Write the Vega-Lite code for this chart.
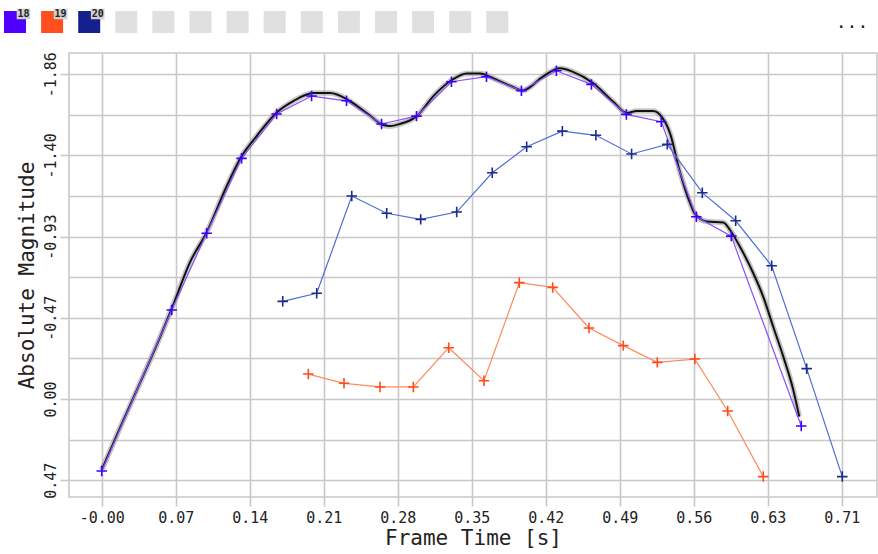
{
  "$schema": "https://vega.github.io/schema/vega-lite/v6.json",
  "width": 808,
  "height": 444,
  "autosize": {"type": "none"},
  "padding": {"left": 69, "top": 53, "right": 1, "bottom": 57},
  "background": "white",
  "config": {"view": {"stroke": "#c8c8c8", "strokeWidth": 1.6}, "font": "DejaVu Sans Mono"},
  "datasets": {
    "fit": [
      {"t": 0.0, "mag": 0.407}, {"t": 0.0174, "mag": 0.166}, {"t": 0.0365, "mag": -0.092}, {"t": 0.0556, "mag": -0.355},
      {"t": 0.067, "mag": -0.522}, {"t": 0.0842, "mag": -0.785}, {"t": 0.1001, "mag": -0.957}, {"t": 0.1191, "mag": -1.221},
      {"t": 0.1334, "mag": -1.393}, {"t": 0.1477, "mag": -1.508}, {"t": 0.1668, "mag": -1.643}, {"t": 0.1826, "mag": -1.708},
      {"t": 0.2017, "mag": -1.754}, {"t": 0.2176, "mag": -1.754}, {"t": 0.235, "mag": -1.714}, {"t": 0.2525, "mag": -1.64},
      {"t": 0.2684, "mag": -1.571}, {"t": 0.2747, "mag": -1.565}, {"t": 0.2842, "mag": -1.577}, {"t": 0.3002, "mag": -1.622},
      {"t": 0.3157, "mag": -1.734}, {"t": 0.3336, "mag": -1.829}, {"t": 0.3478, "mag": -1.867}, {"t": 0.3605, "mag": -1.867},
      {"t": 0.3729, "mag": -1.84}, {"t": 0.3919, "mag": -1.789}, {"t": 0.4015, "mag": -1.769}, {"t": 0.4205, "mag": -1.849},
      {"t": 0.4367, "mag": -1.896}, {"t": 0.4491, "mag": -1.876}, {"t": 0.4682, "mag": -1.812}, {"t": 0.4873, "mag": -1.706},
      {"t": 0.5003, "mag": -1.64}, {"t": 0.5099, "mag": -1.651}, {"t": 0.5254, "mag": -1.651}, {"t": 0.5337, "mag": -1.618},
      {"t": 0.5416, "mag": -1.525}, {"t": 0.5511, "mag": -1.301}, {"t": 0.5607, "mag": -1.124}, {"t": 0.5654, "mag": -1.061},
      {"t": 0.5766, "mag": -1.018}, {"t": 0.5924, "mag": -1.012}, {"t": 0.5988, "mag": -0.969}, {"t": 0.6083, "mag": -0.873},
      {"t": 0.621, "mag": -0.721}, {"t": 0.6305, "mag": -0.586}, {"t": 0.64, "mag": -0.414}, {"t": 0.6496, "mag": -0.243},
      {"t": 0.6591, "mag": -0.052}, {"t": 0.6648, "mag": 0.101}
    ],
    "series": [
      {"id": "18", "t": 0.0, "mag": 0.413}, {"id": "18", "t": 0.0667, "mag": -0.51}, {"id": "18", "t": 0.1, "mag": -0.95},
      {"id": "18", "t": 0.1333, "mag": -1.38}, {"id": "18", "t": 0.1667, "mag": -1.634}, {"id": "18", "t": 0.2, "mag": -1.737},
      {"id": "18", "t": 0.2333, "mag": -1.71}, {"id": "18", "t": 0.2667, "mag": -1.577}, {"id": "18", "t": 0.3, "mag": -1.622},
      {"id": "18", "t": 0.3333, "mag": -1.819}, {"id": "18", "t": 0.3667, "mag": -1.848}, {"id": "18", "t": 0.4, "mag": -1.768},
      {"id": "18", "t": 0.4333, "mag": -1.882}, {"id": "18", "t": 0.4667, "mag": -1.804}, {"id": "18", "t": 0.5, "mag": -1.632},
      {"id": "18", "t": 0.5333, "mag": -1.59}, {"id": "18", "t": 0.5667, "mag": -1.045}, {"id": "18", "t": 0.6, "mag": -0.934},
      {"id": "18", "t": 0.6667, "mag": 0.155},
      {"id": "19", "t": 0.1969, "mag": -0.143}, {"id": "19", "t": 0.2309, "mag": -0.09}, {"id": "19", "t": 0.2652, "mag": -0.069},
      {"id": "19", "t": 0.297, "mag": -0.069}, {"id": "19", "t": 0.3307, "mag": -0.294}, {"id": "19", "t": 0.3643, "mag": -0.105},
      {"id": "19", "t": 0.398, "mag": -0.667}, {"id": "19", "t": 0.4298, "mag": -0.64}, {"id": "19", "t": 0.4644, "mag": -0.407},
      {"id": "19", "t": 0.4971, "mag": -0.306}, {"id": "19", "t": 0.5295, "mag": -0.21}, {"id": "19", "t": 0.5653, "mag": -0.229},
      {"id": "19", "t": 0.5966, "mag": 0.069}, {"id": "19", "t": 0.6305, "mag": 0.445},
      {"id": "20", "t": 0.1725, "mag": -0.56}, {"id": "20", "t": 0.2049, "mag": -0.606}, {"id": "20", "t": 0.2383, "mag": -1.164},
      {"id": "20", "t": 0.2716, "mag": -1.065}, {"id": "20", "t": 0.304, "mag": -1.03}, {"id": "20", "t": 0.3383, "mag": -1.072},
      {"id": "20", "t": 0.3722, "mag": -1.297}, {"id": "20", "t": 0.405, "mag": -1.446}, {"id": "20", "t": 0.439, "mag": -1.536},
      {"id": "20", "t": 0.471, "mag": -1.512}, {"id": "20", "t": 0.505, "mag": -1.405}, {"id": "20", "t": 0.539, "mag": -1.46},
      {"id": "20", "t": 0.5724, "mag": -1.183}, {"id": "20", "t": 0.6042, "mag": -1.022}, {"id": "20", "t": 0.6385, "mag": -0.764},
      {"id": "20", "t": 0.6719, "mag": -0.174}, {"id": "20", "t": 0.7058, "mag": 0.445}
    ],
    "legend": [
      {"slot": 0, "id": "18"}, {"slot": 1, "id": "19"}, {"slot": 2, "id": "20"},
      {"slot": 3, "id": "empty"}, {"slot": 4, "id": "empty"}, {"slot": 5, "id": "empty"}, {"slot": 6, "id": "empty"},
      {"slot": 7, "id": "empty"}, {"slot": 8, "id": "empty"}, {"slot": 9, "id": "empty"}, {"slot": 10, "id": "empty"},
      {"slot": 11, "id": "empty"}, {"slot": 12, "id": "empty"}, {"slot": 13, "id": "empty"}
    ]
  },
  "layer": [
    {
      "encoding": {
        "x": {
          "field": "t", "type": "quantitative", "title": "Frame Time [s]",
          "scale": {"domain": [-0.0312, 0.7389], "nice": false, "zero": false},
          "axis": {
            "values": [0, 0.07053, 0.14106, 0.21159, 0.28212, 0.35265, 0.42318, 0.49371, 0.56424, 0.63477, 0.7053],
            "labelExpr": "datum.value < 0.001 ? '-0.00' : format(datum.value, '.2f')",
            "domain": false, "grid": true, "gridColor": "#c8c8c8", "gridWidth": 1.6,
            "tickColor": "#c8c8c8", "tickWidth": 1.6, "tickSize": 9,
            "labelPadding": 4, "labelFont": "DejaVu Sans Mono", "labelFontSize": 15, "labelColor": "#222",
            "labelFlush": false, "labelOverlap": false,
            "titleFont": "DejaVu Sans Mono", "titleFontSize": 21, "titleFontWeight": "normal", "titleColor": "#222", "titlePadding": 2
          }
        },
        "y": {
          "field": "mag", "type": "quantitative", "title": "Absolute Magnitude",
          "scale": {"domain": [-1.984, 0.562], "reverse": true, "nice": false, "zero": false},
          "axis": {
            "values": [-1.8624, -1.6296, -1.3968, -1.164, -0.9312, -0.6984, -0.4656, -0.2328, 0, 0.2328, 0.4656],
            "labelExpr": "abs(datum.value/0.4656 - round(datum.value/0.4656)) < 0.01 ? replace(format(datum.value, '.2f'), '\u2212', '-') : ''",
            "labelAngle": -90, "labelAlign": "center", "labelBaseline": "bottom",
            "domain": false, "grid": true, "gridColor": "#c8c8c8", "gridWidth": 1.6,
            "tickColor": {"condition": {"test": "abs(datum.value/0.4656 - round(datum.value/0.4656)) < 0.01", "value": "#c8c8c8"}, "value": "rgba(0,0,0,0)"},
            "tickWidth": 1.6, "tickSize": 9,
            "labelPadding": 2, "labelFont": "DejaVu Sans Mono", "labelFontSize": 15, "labelColor": "#222",
            "labelFlush": false, "labelOverlap": false,
            "titleFont": "DejaVu Sans Mono", "titleFontSize": 21, "titleFontWeight": "normal", "titleColor": "#222", "titlePadding": 6
          }
        }
      },
      "layer": [
        {"data": {"name": "fit"}, "mark": {"type": "line", "interpolate": "monotone", "stroke": "#a0a0a0", "strokeWidth": 5.5, "opacity": 0.6}},
        {"data": {"name": "fit"}, "mark": {"type": "line", "interpolate": "monotone", "stroke": "#111111", "strokeWidth": 2}},
        {
          "data": {"name": "series"},
          "mark": {"type": "line", "strokeWidth": 1.2},
          "encoding": {"color": {"field": "id", "type": "nominal", "scale": {"domain": ["18", "19", "20"], "range": ["#8a4cff", "#ff8a5c", "#4d6ed6"]}, "legend": null}}
        },
        {
          "data": {"name": "series"},
          "mark": {"type": "point", "shape": "M-1,0H1M0,-1V1", "filled": false, "size": 110, "strokeWidth": 1.6, "opacity": 1},
          "encoding": {"stroke": {"field": "id", "type": "nominal", "scale": {"domain": ["18", "19", "20"], "range": ["#3d00ff", "#ff4a1c", "#1b2a8c"]}, "legend": null}}
        },
        {
          "data": {"values": [{"label": "mass -2.72"}]},
          "mark": {"type": "text", "align": "right", "baseline": "alphabetic", "font": "DejaVu Sans Mono", "fontSize": 24, "color": "#222"},
          "encoding": {"x": {"datum": 0.737, "type": "quantitative"}, "y": {"datum": -1.858, "type": "quantitative"}, "text": {"field": "label"}}
        }
      ]
    },
    {
      "encoding": {
        "x": {"field": "slot", "type": "quantitative", "scale": {"domain": [1.4555, 23.2345], "nice": false, "zero": false}, "axis": null},
        "y": {"datum": 1, "type": "quantitative", "scale": {"domain": [-14.32, 0], "nice": false, "zero": false}, "axis": null}
      },
      "layer": [
        {
          "data": {"name": "legend"},
          "mark": {"type": "point", "shape": "square", "filled": true, "size": 484, "opacity": 1},
          "encoding": {"fill": {"field": "id", "type": "nominal", "scale": {"domain": ["18", "19", "20", "empty"], "range": ["#5000ff", "#ff4f1f", "#16208c", "#e0e0e0"]}, "legend": null}}
        },
        {
          "data": {"name": "legend"},
          "transform": [{"filter": "datum.id != 'empty'"}],
          "mark": {"type": "point", "shape": "M-1.3,-1H1.3V1H-1.3Z", "filled": true, "size": 110, "color": "#cfcfcf", "opacity": 1, "xOffset": 8.5, "yOffset": -8}
        },
        {
          "data": {"name": "legend"},
          "transform": [{"filter": "datum.id != 'empty'"}],
          "mark": {"type": "text", "dx": 8.5, "dy": -8, "align": "center", "baseline": "middle", "font": "DejaVu Sans Mono", "fontSize": 10, "fontWeight": "bold", "color": "#222"},
          "encoding": {"text": {"field": "id"}}
        },
        {
          "data": {"name": "legend"},
          "transform": [{"filter": "datum.slot == 13"}],
          "mark": {"type": "text", "align": "center", "baseline": "alphabetic", "dy": 6, "font": "DejaVu Sans Mono", "fontSize": 18, "color": "#222"},
          "encoding": {
            "x": {"datum": 22.56, "type": "quantitative"},
            "y": {"datum": 1, "type": "quantitative"},
            "text": {"value": "..."}
          }
        }
      ]
    }
  ],
  "resolve": {"scale": {"x": "independent", "y": "independent"}}
}
